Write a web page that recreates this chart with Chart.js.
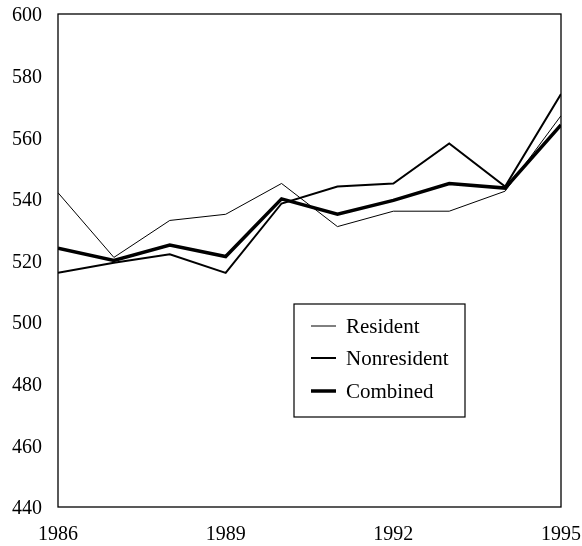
<!DOCTYPE html>
<html>
<head>
<meta charset="utf-8">
<script src="https://cdn.jsdelivr.net/npm/chart.js@4/dist/chart.umd.min.js"></script>
<style>
  html, body { margin: 0; padding: 0; background: #fff; }
  #wrap { width: 582px; height: 546px; }
</style>
</head>
<body>
<div id="wrap"><canvas id="c" width="582" height="546"></canvas></div>
<script>
const years = [1986, 1987, 1988, 1989, 1990, 1991, 1992, 1993, 1994, 1995];
const resident = [542, 521, 533, 535, 545, 531, 536, 536, 542.5, 567];
const nonresident = [516, 519.3, 522, 516, 538.5, 544, 545, 558, 544, 574];
const combined = [524, 520, 525, 521.3, 540, 535, 539.5, 545, 543.5, 564];
const xTicks = [1986, 1989, 1992, 1995];
const yTicks = [440, 460, 480, 500, 520, 540, 560, 580, 600];

const FONT = "'Liberation Serif', 'DejaVu Serif', serif";

function pts(vals) { return years.map((y, i) => ({ x: y, y: vals[i] })); }

const boxPlugin = {
  id: 'box',
  afterDraw(chart) {
    const { ctx, chartArea: a } = chart;
    ctx.save();
    ctx.strokeStyle = '#000';
    ctx.lineWidth = 1.3;
    ctx.strokeRect(a.left, a.top, a.right - a.left, a.bottom - a.top);
    ctx.restore();
  }
};

const legendPlugin = {
  id: 'customLegend',
  afterDraw(chart, args, opts) {
    const { ctx } = chart;
    ctx.save();
    ctx.strokeStyle = '#000';
    ctx.lineWidth = 1.2;
    ctx.strokeRect(opts.x, opts.y, opts.w, opts.h);
    ctx.font = opts.font;
    ctx.fillStyle = '#000';
    ctx.textBaseline = 'middle';
    chart.data.datasets.forEach((ds, i) => {
      const cy = opts.rowY[i];
      ctx.beginPath();
      ctx.lineWidth = ds.borderWidth;
      ctx.strokeStyle = ds.borderColor;
      ctx.moveTo(opts.lineX0, cy);
      ctx.lineTo(opts.lineX1, cy);
      ctx.stroke();
      ctx.fillText(ds.label, opts.textX, cy + 1);
    });
    ctx.restore();
  }
};

new Chart(document.getElementById('c'), {
  type: 'line',
  data: {
    datasets: [
      { label: 'Resident', data: pts(resident), borderColor: '#000', borderWidth: 1, pointRadius: 0, tension: 0, fill: false },
      { label: 'Nonresident', data: pts(nonresident), borderColor: '#000', borderWidth: 2, pointRadius: 0, tension: 0, fill: false },
      { label: 'Combined', data: pts(combined), borderColor: '#000', borderWidth: 3.5, pointRadius: 0, tension: 0, fill: false }
    ]
  },
  options: {
    responsive: false,
    animation: false,
    layout: { padding: { top: 14, right: 21, left: 0, bottom: 0 } },
    plugins: {
      legend: { display: false },
      tooltip: { enabled: false },
      customLegend: {
        x: 294, y: 304, w: 171, h: 113,
        lineX0: 311, lineX1: 336, textX: 346,
        rowY: [326, 358, 391],
        font: "21px " + FONT
      }
    },
    scales: {
      x: {
        type: 'linear',
        min: 1986, max: 1995,
        afterBuildTicks(s) { s.ticks = xTicks.map(v => ({ value: v })); },
        afterFit(s) { s.height = 39; s.paddingLeft = 0; s.paddingRight = 0; },
        grid: { display: false, drawTicks: false },
        border: { display: false },
        ticks: { color: '#000', font: { family: FONT, size: 20 }, padding: 16, maxRotation: 0, autoSkip: false, callback: v => String(v) }
      },
      y: {
        min: 440, max: 600,
        afterBuildTicks(s) { s.ticks = yTicks.map(v => ({ value: v })); },
        afterFit(s) { s.width = 58; s.paddingTop = 0; s.paddingBottom = 0; },
        grid: { display: false, drawTicks: false },
        border: { display: false },
        ticks: { color: '#000', font: { family: FONT, size: 20 }, padding: 16, labelOffset: 2, autoSkip: false }
      }
    }
  },
  plugins: [boxPlugin, legendPlugin]
});
</script>
</body>
</html>
